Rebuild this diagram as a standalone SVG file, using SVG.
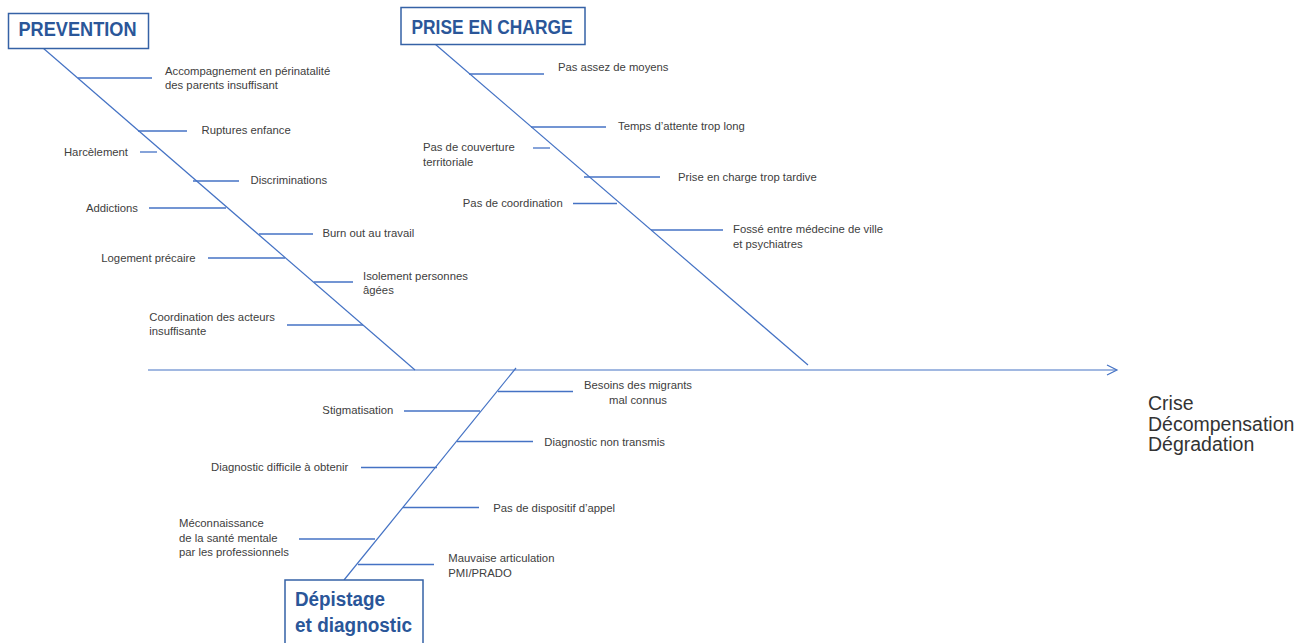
<svg xmlns="http://www.w3.org/2000/svg" width="1303" height="643" viewBox="0 0 1303 643">
<style>
.bg{fill:#ffffff}
.box{fill:#ffffff;stroke:#3562A6;stroke-width:1.5}
.title{font-family:"Liberation Sans",Arial,sans-serif;font-weight:bold;fill:#2A5699;font-size:19.5px}
.lbl{font-family:"Liberation Sans",Arial,sans-serif;font-size:11.3px;fill:#404040}
.out{font-family:"Liberation Sans",Arial,sans-serif;font-size:19.5px;fill:#333333}
.ln{stroke:#4472C4;stroke-width:1.2;fill:none}
.tk{stroke:#4472C4;stroke-width:1.3;fill:none}
.end{text-anchor:end}
.mid{text-anchor:middle}
</style>
<rect class="bg" x="0" y="0" width="1303" height="643"/>
<g id="connectors">
  <line class="ln" x1="148" y1="370" x2="1116" y2="370"/>
  <path class="ln" d="M1107,365 L1117,370 L1107,375"/>
  <line class="ln" x1="43" y1="48" x2="415" y2="370"/>
  <line class="ln" x1="435" y1="44" x2="808" y2="365"/>
  <line class="ln" x1="516" y1="368" x2="344" y2="580"/>
  <line class="tk" x1="78" y1="78" x2="152" y2="78"/>
  <line class="tk" x1="138" y1="131" x2="187" y2="131"/>
  <line class="tk" x1="140" y1="152" x2="157" y2="152"/>
  <line class="tk" x1="193" y1="181" x2="239" y2="181"/>
  <line class="tk" x1="149" y1="208" x2="226" y2="208"/>
  <line class="tk" x1="259" y1="234" x2="313" y2="234"/>
  <line class="tk" x1="208" y1="258" x2="285" y2="258"/>
  <line class="tk" x1="314" y1="282" x2="353" y2="282"/>
  <line class="tk" x1="287" y1="325" x2="363" y2="325"/>
  <line class="tk" x1="469" y1="74" x2="544" y2="74"/>
  <line class="tk" x1="531" y1="127" x2="606" y2="127"/>
  <line class="tk" x1="533" y1="148" x2="550" y2="148"/>
  <line class="tk" x1="584" y1="177" x2="660" y2="177"/>
  <line class="tk" x1="573" y1="203.5" x2="617" y2="203.5"/>
  <line class="tk" x1="651" y1="230" x2="723" y2="230"/>
  <line class="tk" x1="498" y1="391.5" x2="573" y2="391.5"/>
  <line class="tk" x1="404" y1="411" x2="480" y2="411"/>
  <line class="tk" x1="457" y1="441.5" x2="533" y2="441.5"/>
  <line class="tk" x1="361" y1="467.5" x2="437" y2="467.5"/>
  <line class="tk" x1="403" y1="507.5" x2="479" y2="507.5"/>
  <line class="tk" x1="299" y1="539" x2="375" y2="539"/>
  <line class="tk" x1="358" y1="564.5" x2="434" y2="564.5"/>
</g>
<g id="prevention">
  <rect class="box" x="8.5" y="13.5" width="140" height="35"/>
  <text class="title" x="18.5" y="36" textLength="118" lengthAdjust="spacingAndGlyphs">PREVENTION</text>
</g>
<g id="prise-en-charge">
  <rect class="box" x="401" y="7.5" width="184" height="37"/>
  <text class="title" x="411.5" y="33.5" textLength="161" lengthAdjust="spacingAndGlyphs">PRISE EN CHARGE</text>
</g>
<g id="depistage">
  <rect class="box" x="285" y="580" width="138" height="75"/>
  <text class="title" x="295" y="606" font-size="20" textLength="90" lengthAdjust="spacingAndGlyphs">Dépistage</text>
  <text class="title" x="295" y="631.5" font-size="20" textLength="117" lengthAdjust="spacingAndGlyphs">et diagnostic</text>
</g>
<g id="resultat">
  <text class="out" x="1148" y="410">Crise</text>
  <text class="out" x="1148" y="430.5">Décompensation</text>
  <text class="out" x="1148" y="451">Dégradation</text>
</g>
<g id="c-accompagnement"><text class="lbl" x="165" y="75">Accompagnement en périnatalité</text><text class="lbl" x="165" y="89">des parents insuffisant</text></g>
<g id="c-ruptures"><text class="lbl" x="201.5" y="134">Ruptures enfance</text></g>
<g id="c-harcelement"><text class="lbl end" x="128" y="155.5">Harcèlement</text></g>
<g id="c-discriminations"><text class="lbl" x="250.5" y="184">Discriminations</text></g>
<g id="c-addictions"><text class="lbl end" x="138" y="211.5">Addictions</text></g>
<g id="c-burnout"><text class="lbl" x="322.5" y="236.5">Burn out au travail</text></g>
<g id="c-logement"><text class="lbl end" x="195.5" y="262">Logement précaire</text></g>
<g id="c-isolement"><text class="lbl" x="363" y="279.5">Isolement personnes</text><text class="lbl" x="363" y="293.5">âgées</text></g>
<g id="c-coordination-acteurs"><text class="lbl" x="149.3" y="320.5">Coordination des acteurs</text><text class="lbl" x="149.3" y="334.5">insuffisante</text></g>
<g id="c-moyens"><text class="lbl" x="558" y="70.5">Pas assez de moyens</text></g>
<g id="c-attente"><text class="lbl" x="618" y="130">Temps d’attente trop long</text></g>
<g id="c-couverture"><text class="lbl" x="423" y="151">Pas de couverture</text><text class="lbl" x="423" y="166">territoriale</text></g>
<g id="c-tardive"><text class="lbl" x="678" y="180.5">Prise en charge trop tardive</text></g>
<g id="c-coordination"><text class="lbl end" x="562.7" y="207">Pas de coordination</text></g>
<g id="c-fosse"><text class="lbl" x="733" y="233">Fossé entre médecine de ville</text><text class="lbl" x="733" y="248">et psychiatres</text></g>
<g id="c-migrants"><text class="lbl mid" x="638" y="389">Besoins des migrants</text><text class="lbl mid" x="638" y="404">mal connus</text></g>
<g id="c-stigmatisation"><text class="lbl end" x="393.3" y="414">Stigmatisation</text></g>
<g id="c-non-transmis"><text class="lbl" x="544.3" y="446">Diagnostic non transmis</text></g>
<g id="c-difficile"><text class="lbl end" x="348.3" y="470.5">Diagnostic difficile à obtenir</text></g>
<g id="c-appel"><text class="lbl" x="493.3" y="511.5">Pas de dispositif d’appel</text></g>
<g id="c-meconnaissance"><text class="lbl" x="179" y="527">Méconnaissance</text><text class="lbl" x="179" y="541.5">de la santé mentale</text><text class="lbl" x="179" y="556">par les professionnels</text></g>
<g id="c-articulation"><text class="lbl" x="448.3" y="562">Mauvaise articulation</text><text class="lbl" x="448.3" y="577">PMI/PRADO</text></g>
</svg>
